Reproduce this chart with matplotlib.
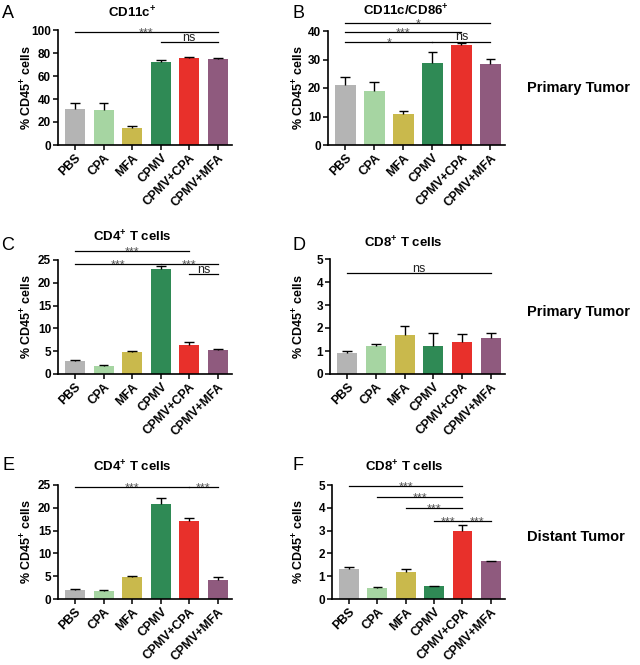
import numpy as np
import matplotlib
matplotlib.use('Agg')
import matplotlib.pyplot as plt

plt.rcParams['font.family'] = ['Liberation Sans', 'DejaVu Sans']
plt.rcParams['mathtext.fontset'] = 'custom'
plt.rcParams['mathtext.rm'] = 'Liberation Sans'
plt.rcParams['mathtext.bf'] = 'Liberation Sans:bold'

groups = ['PBS', 'CPA', 'MFA', 'CPMV', 'CPMV+CPA', 'CPMV+MFA']
colors = ['#b4b4b4', '#a6d5a2', '#c9b94c', '#2f8a55', '#e8302b', '#8f5a7e']

# panel values (mean, upper error)
a_mean = [31.0, 30.4, 14.8, 72.5, 75.8, 75.2]
a_err = [5.6, 6.2, 1.3, 1.2, 0.4, 0.6]
b_mean = [21.1, 19.0, 11.0, 28.9, 35.0, 28.5]
b_err = [2.9, 3.2, 0.9, 3.8, 0.9, 1.8]
c_mean = [2.9, 1.85, 4.8, 23.1, 6.4, 5.35]
c_err = [0.2, 0.2, 0.35, 0.5, 0.6, 0.15]
d_mean = [0.92, 1.22, 1.69, 1.22, 1.38, 1.57]
d_err = [0.1, 0.08, 0.38, 0.58, 0.38, 0.23]
e_mean = [2.0, 1.85, 4.9, 20.8, 17.2, 4.25]
e_err = [0.15, 0.15, 0.1, 1.35, 0.65, 0.5]
f_mean = [1.33, 0.47, 1.18, 0.55, 3.0, 1.65]
f_err = [0.06, 0.07, 0.13, 0.03, 0.23, 0.03]

# significance bars: (start, end, height, label)
a_sig = [(0, 5, 98.6, '***'), (3, 5, 89.9, 'ns')]
b_sig = [(0, 5, 42.9, '*'), (0, 4, 39.6, '***'), (0, 3, 36.3, '*'), (3, 5, 36.3, 'ns')]
c_sig = [(0, 4, 26.9, '***'), (0, 3, 24.2, '***'), (3, 5, 24.2, '***'), (4, 5, 21.9, 'ns')]
d_sig = [(0, 5, 4.39, 'ns')]
e_sig = [(0, 4, 24.6, '***'), (4, 5, 24.6, '***')]
f_sig = [(0, 4, 4.96, '***'), (1, 4, 4.46, '***'), (2, 4, 3.98, '***'),
         (3, 4, 3.44, '***'), (4, 5, 3.44, '***')]

sup = r'$^{\mathbf{+}}$'
panels = [
    ('A', 'CD11c' + sup, a_mean, a_err, a_sig, 100, 20, [58, 232, 30, 145], 0.425, 1.148, -0.132),
    ('B', 'CD11c/CD86' + sup, b_mean, b_err, b_sig, 40, 10, [328, 505, 31, 145], 0.44, 1.18, -0.119),
    ('C', 'CD4' + sup + ' T cells', c_mean, c_err, c_sig, 25, 5, [58, 232, 260, 374], 0.425, 1.2, -0.132),
    ('D', 'CD8' + sup + ' T cells', d_mean, d_err, d_sig, 5, 1, [330, 505, 259, 374], 0.417, 1.14, -0.131),
    ('E', 'CD4' + sup + ' T cells', e_mean, e_err, e_sig, 25, 5, [58, 232, 485, 599], 0.425, 1.158, -0.132),
    ('F', 'CD8' + sup + ' T cells', f_mean, f_err, f_sig, 5, 1, [332, 505, 485, 599], 0.42, 1.158, -0.145),
]
letter_pos = {'A': (8, 14), 'B': (299, 14), 'C': (8, 246), 'D': (299, 246), 'E': (8, 466), 'F': (298, 466)}

W, H = 640, 665
fig = plt.figure(figsize=(6.4, 6.65), dpi=100)

x = np.arange(len(groups))
for letter, title, mean, err, sig, ymax, ystep, box, tx, ty, lblx in panels:
    l, r, t, b = box
    ax = fig.add_axes([l / W, 1 - b / H, (r - l) / W, (b - t) / H])
    mean = np.array(mean)
    err = np.array(err)
    ax.bar(x, mean, width=0.7, color=colors, edgecolor='none', zorder=2)
    ax.vlines(x, mean, mean + err, color='black', lw=1.0, zorder=3)
    ax.hlines(mean + err, x - 0.17, x + 0.17, color='black', lw=1.0, zorder=3)
    ax.set_xlim(-0.6, 5.5)
    ax.set_ylim(0, ymax)
    ax.set_yticks(np.arange(0, ymax + ystep / 2, ystep))
    ax.set_xticks(x)
    ax.set_xticklabels(groups, rotation=45, ha='right', rotation_mode='anchor',
                       fontsize=8.8, fontweight='bold')
    for lab in ax.get_yticklabels():
        lab.set_fontweight('bold')
        lab.set_fontsize(8.5)
    ax.tick_params(axis='both', length=3.5, width=1.1, pad=1.5)
    for s in ['top', 'right']:
        ax.spines[s].set_visible(False)
    for s in ['left', 'bottom']:
        ax.spines[s].set_linewidth(1.2)
    ax.set_ylabel('% CD45' + sup + ' cells', fontsize=9, fontweight='bold')
    ax.yaxis.set_label_coords(lblx, 0.5)
    ax.text(tx, ty, title, transform=ax.transAxes, ha='center', va='center',
            fontsize=9.5, fontweight='bold')
    for s0, s1, h, lab in sig:
        ax.plot([s0, s1], [h, h], color='black', lw=0.9, clip_on=False, zorder=4)
        if lab == 'ns':
            ax.annotate(lab, xy=((s0 + s1) / 2, h), xytext=(0, 0.8), textcoords='offset points',
                        ha='center', va='baseline', fontsize=9, color='#222222',
                        annotation_clip=False)
        else:
            ax.annotate(lab, xy=((s0 + s1) / 2, h), xytext=(0, -3.2), textcoords='offset points',
                        ha='center', va='baseline', fontsize=9, color='#555555',
                        annotation_clip=False)
    lx, ly = letter_pos[letter]
    fig.text(lx / W, 1 - ly / H, letter, ha='center', va='center', fontsize=13)

fig.text(527 / W, 1 - 88 / H, 'Primary Tumor', ha='left', va='center', fontsize=10.5, fontweight='bold')
fig.text(527 / W, 1 - 312 / H, 'Primary Tumor', ha='left', va='center', fontsize=10.5, fontweight='bold')
fig.text(527 / W, 1 - 537 / H, 'Distant Tumor', ha='left', va='center', fontsize=10.5, fontweight='bold')

fig.savefig('out.png', dpi=100)
